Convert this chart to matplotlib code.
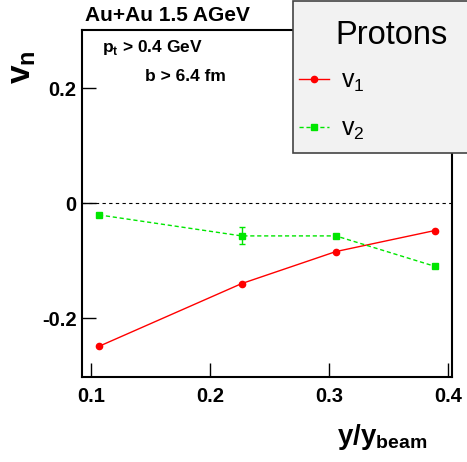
import matplotlib.pyplot as plt
from matplotlib.patches import Rectangle

plt.rcParams['font.family'] = ['Liberation Sans', 'DejaVu Sans']
plt.rcParams['mathtext.fontset'] = 'custom'
plt.rcParams['mathtext.rm'] = 'Liberation Sans'
plt.rcParams['mathtext.bf'] = 'Liberation Sans:bold'

# proton flow vs normalized rapidity
y_v1 = [0.1067, 0.2266, 0.3059, 0.389]
v1 = [-0.2487, -0.1397, -0.084, -0.0475]

y_v2 = [0.1067, 0.2266, 0.3059, 0.389]
v2 = [-0.0203, -0.0568, -0.0568, -0.1096]
v2_err = [0.0, 0.0148, 0.0, 0.0]

xticks = [0.1, 0.2, 0.3, 0.4]
yticks = [-0.2, 0, 0.2]
yticklabels = ["-0.2", "0", "0.2"]

fig = plt.figure(figsize=(4.67, 4.62), dpi=100)
ax = fig.add_axes([0.1756, 0.184, 0.792, 0.751])

ax.axhline(0, color="black", lw=0.8, ls=(0, (3, 3)))
ax.plot(y_v1, v1, "o-", color="red", ms=4.5, lw=1.0, label=r"v$_1$")
ax.errorbar(y_v2, v2, yerr=v2_err, fmt="none", ecolor="#00e600",
            capsize=2, elinewidth=1.0)
ax.plot(y_v2, v2, "s--", color="#00e600", ms=4.5, lw=1.0, dashes=(3, 2),
        label=r"v$_2$")

ax.set_xlim(0.0924, 0.4034)
ax.set_ylim(-0.302, 0.301)
ax.set_xticks(xticks)
ax.set_xticklabels([str(t) for t in xticks])
ax.set_yticks(yticks)
ax.set_yticklabels(yticklabels)
ax.tick_params(direction="in", length=10, width=1, labelsize=14.5)
ax.tick_params(axis="y", pad=4)
ax.tick_params(axis="x", pad=7)
for lab in ax.get_xticklabels() + ax.get_yticklabels():
    lab.set_fontweight("bold")
for s in ax.spines.values():
    s.set_linewidth(1.5)

fig.text(0.182, 0.967, "Au+Au 1.5 AGeV", fontsize=15, fontweight="bold", va="center")
fig.text(0.218, 0.898, r"p$_{\mathbf{t}}$ > 0.4 GeV", fontsize=12.5,
         fontweight="bold", va="center")
fig.text(0.31, 0.835, "b > 6.4 fm", fontsize=12.5, fontweight="bold", va="center")

fig.text(0.048, 0.855, r"$\mathbf{v_n}$", fontsize=24, rotation=90, ha="center", va="center")
fig.text(0.915, 0.054, r"$\mathbf{y/y_{beam}}$", fontsize=20, ha="right", va="center")

# legend box, partly outside the figure like the original
ax.add_patch(Rectangle((0.627, 0.669), 0.45, 0.329, transform=fig.transFigure,
                       facecolor="#f2f2f2", edgecolor="#444444", lw=1.2,
                       clip_on=False, zorder=4))
fig.text(0.839, 0.924, "Protons", fontsize=23.5, ha="center", va="center", zorder=7)
leg = ax.legend(loc="upper left", bbox_to_anchor=(0.64, 0.852),
                bbox_transform=fig.transFigure, frameon=False,
                fontsize=18, handlelength=1.2, handletextpad=0.5,
                labelspacing=0.92, borderpad=0, borderaxespad=0)
leg.set_zorder(6)

fig.savefig("out.png", dpi=100)
